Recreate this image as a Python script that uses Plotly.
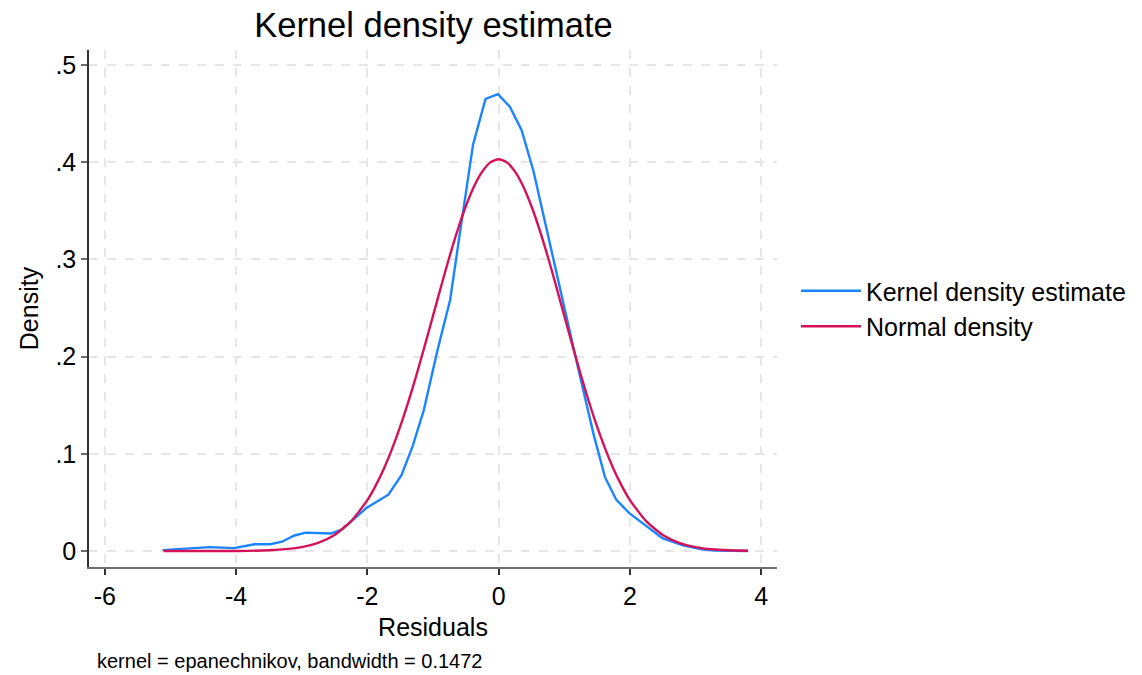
import plotly.graph_objects as go

# Kernel density estimate
kde_x = [-5.12, -4.40, -4.03, -3.72, -3.48, -3.30, -3.11, -2.94, -2.56, -2.39, -2.22, -2.02,
         -1.68, -1.48, -1.31, -1.14, -0.93, -0.74, -0.56, -0.39, -0.20, -0.01, 0.17, 0.35,
         0.53, 0.70, 0.90, 1.11, 1.28, 1.45, 1.62, 1.79, 1.99, 2.20, 2.50, 2.81, 3.08, 3.29, 3.80]
kde_y = [0.001, 0.004, 0.003, 0.007, 0.007, 0.0096, 0.016, 0.019, 0.018, 0.022, 0.032, 0.044,
         0.058, 0.078, 0.108, 0.145, 0.207, 0.258, 0.341, 0.418, 0.465, 0.470, 0.457, 0.433,
         0.391, 0.340, 0.278, 0.218, 0.168, 0.119, 0.076, 0.053, 0.039, 0.028, 0.013, 0.006,
         0.002, 0.0005, 0.0]

# Normal density
norm_x = [-5.1, -4.5, -4.0, -3.5, -3.0, -2.75, -2.5, -2.25, -2.0, -1.875, -1.75, -1.625, -1.5,
          -1.375, -1.25, -1.125, -1.0, -0.875, -0.75, -0.625, -0.5, -0.375, -0.25, -0.125, 0.0,
          0.125, 0.25, 0.375, 0.5, 0.625, 0.75, 0.875, 1.0, 1.125, 1.25, 1.375, 1.5, 1.625,
          1.75, 1.875, 2.0, 2.25, 2.5, 2.75, 3.0, 3.25, 3.5, 3.8]
norm_y = [0.0, 0.0, 0.0001, 0.0008, 0.0041, 0.0085, 0.0166, 0.0305, 0.0524, 0.0671, 0.0845,
          0.1048, 0.1279, 0.1536, 0.1816, 0.2113, 0.2419, 0.2727, 0.3025, 0.3302, 0.3547,
          0.3751, 0.3903, 0.3998, 0.4030, 0.3998, 0.3903, 0.3751, 0.3547, 0.3302, 0.3025,
          0.2727, 0.2419, 0.2113, 0.1816, 0.1536, 0.1279, 0.1048, 0.0845, 0.0671, 0.0524,
          0.0305, 0.0166, 0.0085, 0.0041, 0.0018, 0.0008, 0.0003]

x_ticks = [-6, -4, -2, 0, 2, 4]
x_labels = ["-6", "-4", "-2", "0", "2", "4"]
y_ticks = [0, 0.1, 0.2, 0.3, 0.4, 0.5]
y_labels = ["0", ".1", ".2", ".3", ".4", ".5"]

FONT = "Liberation Sans, Arial, Helvetica, sans-serif"

fig = go.Figure()
fig.add_trace(go.Scatter(x=kde_x, y=kde_y, mode="lines", name="Kernel density estimate",
                         line=dict(color="#1a85ff", width=2.4)))
fig.add_trace(go.Scatter(x=norm_x, y=norm_y, mode="lines", name="Normal density",
                         line=dict(color="#d41159", width=2.4, shape="spline", smoothing=0.6)))

fig.update_layout(
    width=1142, height=675,
    margin=dict(l=89, r=364, t=50, b=108),
    paper_bgcolor="white", plot_bgcolor="white",
    font=dict(family=FONT, size=24, color="#000"),
    title=dict(text="Kernel density estimate", x=(89 + 778) / 2 / 1142, xanchor="center",
               y=1 - 25 / 675, yanchor="middle", font=dict(size=34.5, color="#000")),
    legend=dict(x=1.0 + 18 / 689, xanchor="left", y=0.5, yanchor="middle",
                font=dict(size=25, color="#000"), bgcolor="rgba(0,0,0,0)",
                itemwidth=60, tracegroupgap=0),
    showlegend=True,
)

fig.update_xaxes(
    range=[-6.24, 4.24], tickvals=x_ticks, ticktext=x_labels,
    showgrid=True, gridcolor="#e6e6e6", griddash="dash", gridwidth=1.5,
    zeroline=False, showline=True, linecolor="#6e6e6e", linewidth=1.5,
    ticks="outside", ticklen=6, tickcolor="#333", tickwidth=1.5,
    tickfont=dict(size=25), title=dict(text="Residuals", font=dict(size=25), standoff=10),
)
fig.update_yaxes(
    range=[-0.0164, 0.5154], tickvals=y_ticks, ticktext=y_labels,
    showgrid=True, gridcolor="#e6e6e6", griddash="dash", gridwidth=1.5,
    zeroline=False, showline=True, linecolor="#333", linewidth=1.5,
    ticks="outside", ticklen=6, tickcolor="#6e6e6e", tickwidth=1.5,
    tickfont=dict(size=25), title=dict(text="Density", font=dict(size=25), standoff=10),
)

fig.add_annotation(text="kernel = epanechnikov, bandwidth = 0.1472",
                   xref="paper", yref="paper", x=(95 - 89) / 689, y=-(661 - 567) / 517,
                   xanchor="left", yanchor="middle", showarrow=False,
                   font=dict(size=20, color="#000"))

fig.write_html("out.html")
